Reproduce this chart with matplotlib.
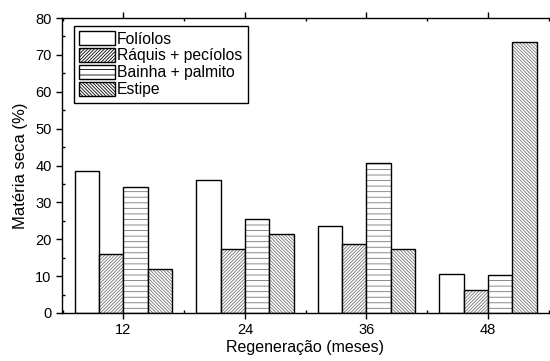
import matplotlib
matplotlib.use("Agg")
import matplotlib.pyplot as plt
import numpy as np

plt.rcParams['font.family'] = ['Liberation Sans', 'DejaVu Sans']
plt.rcParams['hatch.linewidth'] = 0.6

meses = ["12", "24", "36", "48"]
series = ["Folíolos", "Ráquis + pecíolos", "Bainha + palmito", "Estipe"]
foliolos = [38.5, 36.0, 23.7, 10.7]
raquis = [15.9, 17.3, 18.6, 6.1]
bainha = [34.3, 25.6, 40.7, 10.3]
estipe = [11.9, 21.3, 17.3, 73.4]

valores = [foliolos, raquis, bainha, estipe]
hatches = ["", "/" * 10, "---", "\\" * 10]

fig = plt.figure(figsize=(5.5, 3.61), dpi=100)
ax = fig.add_axes([0.1127, 0.133, 0.885, 0.817])

x = np.arange(len(meses))
w = 0.2
for i, (vals, h, lab) in enumerate(zip(valores, hatches, series)):
    # hatch drawn in gray, outline in black on top
    ax.bar(x - 0.3 + i * w, vals, width=w, color="white", edgecolor="#777777",
           hatch=h, linewidth=0, label=lab)
    ax.bar(x - 0.3 + i * w, vals, width=w, fill=False, edgecolor="black",
           linewidth=1.0)

ax.set_xlim(-0.505, 3.465)
ax.set_ylim(0, 80)
ax.set_xticks(x)
ax.set_xticklabels(meses)
ax.set_xticks(np.arange(-0.5, 3.6, 1), minor=True)
ax.set_yticks(np.arange(0, 81, 10))
ax.set_yticks(np.arange(5, 80, 10), minor=True)
ax.tick_params(axis="both", which="major", direction="out", length=4, width=1, labelsize=10.5)
ax.tick_params(axis="y", which="minor", direction="in", length=2, width=1)
ax.tick_params(axis="x", which="minor", direction="in", length=2, width=1, top=True)
ax.tick_params(axis="x", which="major", top=True)
ax.spines["right"].set_visible(False)
for s in ax.spines.values():
    s.set_linewidth(1.0)

ax.set_xlabel("Regeneração (meses)", fontsize=11.5, labelpad=2)
ax.set_ylabel("Matéria seca (%)", fontsize=12, labelpad=5)

leg = ax.legend(loc="upper left", bbox_to_anchor=(0.018, 0.985), fontsize=11.3,
                handlelength=2.3, handleheight=1.0, labelspacing=0.1,
                handletextpad=0.1, borderpad=0.35, borderaxespad=0.2,
                fancybox=False, framealpha=1)
leg.get_frame().set_edgecolor("black")
leg.get_frame().set_linewidth(1.0)
for p in leg.get_patches():
    p.set_edgecolor("black")
    p.set_linewidth(1.0)

fig.savefig("out.png", dpi=100)
